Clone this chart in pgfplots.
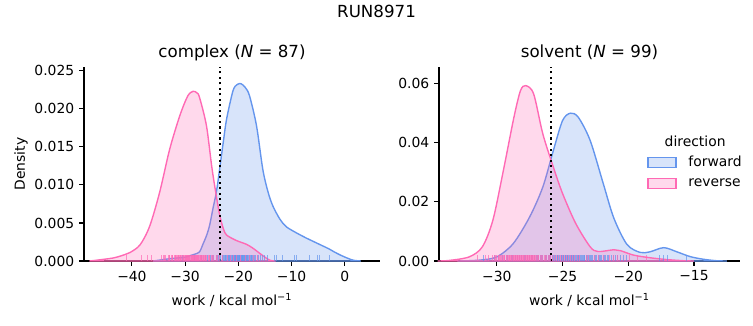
\documentclass[border=0pt]{standalone}
\usepackage{fontspec}
\setmainfont{DejaVu Sans}
\usepackage{pgfplots}
\usepackage{pgfplotstable}
\pgfplotsset{compat=1.18}
\definecolor{fwd}{RGB}{100,149,237}
\definecolor{rev}{RGB}{255,105,180}
\pgfdeclareplotmark{rug}{\pgfpathmoveto{\pgfpointorigin}\pgfpathlineto{\pgfqpoint{0pt}{4.3pt}}\pgfusepathqstroke}

% rug data (work values, drawn at density 0)
\pgfplotstableread{
w h
-30.5 0
-28.3 0
-27.0 0
-26.2 0
-25.8 0
-25.3 0
-24.9 0
-24.6 0
-24.2 0
-23.9 0
-23.6 0
-23.3 0
-23.0 0
-22.8 0
-22.6 0
-22.4 0
-22.2 0
-22.0 0
-21.9 0
-21.7 0
-21.6 0
-21.4 0
-21.3 0
-21.1 0
-21.0 0
-20.8 0
-20.7 0
-20.5 0
-20.4 0
-20.2 0
-20.1 0
-19.9 0
-19.8 0
-19.6 0
-19.5 0
-19.3 0
-19.2 0
-19.0 0
-18.9 0
-18.7 0
-18.6 0
-18.4 0
-18.3 0
-18.1 0
-18.0 0
-17.8 0
-17.6 0
-17.4 0
-17.2 0
-17.0 0
-16.8 0
-16.5 0
-16.2 0
-15.9 0
-15.5 0
-15.1 0
-14.6 0
-13.2 0
-12.8 0
-11.7 0
-9.4 0
-9.0 0
-6.6 0
-5.1 0
-4.7 0
-2.8 0
-22.5 0
-21.8 0
-21.2 0
-20.9 0
-20.6 0
-20.3 0
-20.0 0
-19.7 0
-19.4 0
-19.1 0
-18.8 0
-18.5 0
-18.2 0
-17.9 0
-17.5 0
-23.8 0
-22.9 0
-21.5 0
-20.45 0
-19.85 0
-19.25 0
}\rugCF
\pgfplotstableread{
w h
-41.0 0
-38.2 0
-37.0 0
-36.3 0
-34.4 0
-34.0 0
-33.6 0
-33.2 0
-32.9 0
-32.6 0
-32.3 0
-32.0 0
-31.8 0
-31.5 0
-31.3 0
-31.1 0
-30.9 0
-30.7 0
-30.5 0
-30.3 0
-30.1 0
-29.9 0
-29.8 0
-29.6 0
-29.4 0
-29.3 0
-29.1 0
-29.0 0
-28.8 0
-28.7 0
-28.5 0
-28.4 0
-28.2 0
-28.1 0
-27.9 0
-27.8 0
-27.6 0
-27.5 0
-27.3 0
-27.2 0
-27.0 0
-26.8 0
-26.6 0
-26.4 0
-26.2 0
-26.0 0
-25.7 0
-25.4 0
-25.1 0
-24.7 0
-24.2 0
-23.6 0
-22.9 0
-22.0 0
-21.0 0
-20.3 0
-19.6 0
-18.6 0
-17.9 0
-17.2 0
-16.4 0
-33.8 0
-33.0 0
-32.4 0
-31.9 0
-31.6 0
-31.2 0
-30.8 0
-30.4 0
-30.0 0
-29.7 0
-29.5 0
-29.2 0
-28.9 0
-28.6 0
-28.3 0
-28.0 0
-27.7 0
-27.4 0
-27.1 0
-26.9 0
-26.5 0
-26.1 0
-25.5 0
-24.9 0
-23.9 0
-21.5 0
}\rugCR
\pgfplotstableread{
w h
-31.0 0
-30.2 0
-29.6 0
-29.2 0
-28.9 0
-28.6 0
-28.3 0
-28.1 0
-27.9 0
-27.7 0
-27.5 0
-27.3 0
-27.1 0
-26.9 0
-26.7 0
-26.5 0
-26.3 0
-26.1 0
-25.9 0
-25.7 0
-25.6 0
-25.4 0
-25.3 0
-25.1 0
-25.0 0
-24.9 0
-24.8 0
-24.7 0
-24.6 0
-24.5 0
-24.4 0
-24.3 0
-24.2 0
-24.1 0
-24.0 0
-23.9 0
-23.8 0
-23.7 0
-23.6 0
-23.5 0
-23.4 0
-23.3 0
-23.2 0
-23.1 0
-23.0 0
-22.9 0
-22.8 0
-22.6 0
-22.4 0
-22.2 0
-22.0 0
-21.8 0
-21.6 0
-21.3 0
-21.0 0
-20.6 0
-20.1 0
-17.6 0
-17.3 0
-17.0 0
-15.6 0
-28.8 0
-28.4 0
-27.8 0
-27.4 0
-27.0 0
-26.6 0
-26.2 0
-25.8 0
-25.5 0
-25.2 0
-24.95 0
-24.75 0
-24.55 0
-24.35 0
-24.15 0
-23.95 0
-23.75 0
-23.55 0
-23.35 0
-23.15 0
-22.95 0
-22.7 0
-22.5 0
-22.3 0
-22.1 0
-21.9 0
-21.7 0
-21.5 0
-21.1 0
-20.8 0
-20.4 0
-26.8 0
-26.0 0
-25.35 0
-25.05 0
-24.65 0
-24.25 0
-23.85 0
}\rugSF
\pgfplotstableread{
w h
-31.5 0
-30.9 0
-30.6 0
-30.3 0
-30.1 0
-29.9 0
-29.7 0
-29.5 0
-29.3 0
-29.1 0
-28.9 0
-28.7 0
-28.5 0
-28.3 0
-28.1 0
-27.9 0
-27.7 0
-27.5 0
-27.3 0
-27.1 0
-26.9 0
-26.7 0
-26.5 0
-26.3 0
-26.1 0
-25.9 0
-25.6 0
-25.3 0
-25.0 0
-24.7 0
-24.4 0
-24.1 0
-23.7 0
-23.2 0
-22.6 0
-21.9 0
-21.4 0
-21.1 0
-20.8 0
-19.9 0
-19.3 0
-18.6 0
-30.2 0
-30.0 0
-29.8 0
-29.6 0
-29.4 0
-29.2 0
-29.0 0
-28.8 0
-28.6 0
-28.4 0
-28.2 0
-28.0 0
-27.8 0
-27.6 0
-27.4 0
-27.2 0
-27.0 0
-26.8 0
-26.6 0
-26.4 0
-26.2 0
-26.0 0
-29.85 0
-29.65 0
-29.45 0
-29.25 0
-29.05 0
-28.85 0
-28.65 0
-28.45 0
-28.25 0
-28.05 0
-27.85 0
-27.65 0
-27.45 0
-27.25 0
-27.05 0
-26.85 0
-28.95 0
-28.75 0
-28.55 0
-28.35 0
-28.15 0
-27.95 0
-27.75 0
-27.55 0
-27.35 0
-27.15 0
-25.75 0
-25.45 0
-25.15 0
-24.85 0
-24.55 0
-24.25 0
-23.9 0
-23.0 0
-22.3 0
}\rugSR

\pgfplotsset{
  kde/.style={
    scale only axis,
    axis x line*=bottom, axis y line*=left,
    axis line style={-, line width=0.8pt, black},
    tick align=outside,
    major tick length=3.5pt,
    every tick/.style={black, line width=0.8pt},
    tick label style={font=\fontsize{10}{12}\selectfont},
    scaled y ticks=false, scaled x ticks=false,
    /pgf/number format/assume math mode=true,
    title style={font=\fontsize{12}{14}\selectfont, at={(0.5,1)}, anchor=base, yshift=0.8pt},
    xlabel style={font=\fontsize{10}{12}\selectfont, at={(0.5,0)}, anchor=base, yshift=-32pt},
    ylabel style={font=\fontsize{10}{12}\selectfont},
    xlabel={work / kcal mol\textsuperscript{−1}},
    clip=false,
  },
  fwdline/.style={draw=fwd, fill=fwd, fill opacity=0.25, draw opacity=1, line width=1pt, smooth, tension=0.5},
  revline/.style={draw=rev, fill=rev, fill opacity=0.25, draw opacity=1, line width=1pt, smooth, tension=0.5},
  rugf/.style={only marks, mark=rug, mark options={draw=fwd, draw opacity=0.7, line width=0.7pt}},
  rugr/.style={only marks, mark=rug, mark options={draw=rev, draw opacity=0.7, line width=0.7pt}},
}

\begin{document}
\begin{tikzpicture}
\path (0pt,0pt) rectangle (542.16pt,234pt);
\node[font=\fontsize{12}{14}\selectfont, anchor=base] at (271.1pt,221.4pt) {RUN8971};

% ---------- complex ----------
\begin{axis}[kde,
  at={(60.48pt,46.08pt)}, anchor=south west,
  width=213.1pt, height=139.7pt,
  xmin=-49, xmax=6.6, ymin=0, ymax=0.0255,
  xtick={-40,-30,-20,-10,0},
  xticklabels={−40,−30,−20,−10,0},
  ytick={0,0.005,0.010,0.015,0.020,0.025},
  yticklabels={0.000,0.005,0.010,0.015,0.020,0.025},
  ylabel={Density},
  ylabel style={at={(axis description cs:-0.213,0.5)}, anchor=center},
  title={complex (\textit{N} = 87)},
]
\addplot[fwdline] coordinates {
(-36,0) (-32.9,0.0003) (-30,0.0005) (-29.1,0.0007) (-28.2,0.0009) (-27.3,0.0012)
(-26.6,0.0023) (-26.0,0.0033) (-25.4,0.0047) (-24.8,0.0068) (-24.1,0.0092)
(-23.5,0.0122) (-22.8,0.0158) (-22.2,0.0187) (-21.0,0.0224)
(-20.2,0.0232) (-19.5,0.0233) (-18.7,0.0228) (-17.9,0.0217) (-16.6,0.0178)
(-15.4,0.0120) (-14.4,0.0090) (-13.5,0.0072) (-12.2,0.0055) (-11.0,0.0045)
(-9.1,0.0037) (-7.2,0.0030) (-6.0,0.0026) (-4.5,0.0021) (-3.0,0.0016)
(-2.0,0.0012) (-0.9,0.0008) (0.4,0.0004) (1.6,0.0001) (3,0)
} \closedcycle;
\addplot[revline] coordinates {
(-48,0) (-46.7,0.0001) (-43.5,0.0004) (-41.5,0.0008) (-40.4,0.0011) (-38.5,0.0021)
(-36.7,0.0045) (-34.8,0.0090) (-32.9,0.0147) (-31.0,0.0191) (-29.5,0.0217)
(-28.5,0.0223) (-27.8,0.0221) (-27.3,0.0215) (-26.0,0.0178) (-25.0,0.0124)
(-24.2,0.0088) (-23.5,0.0060) (-22.8,0.0042) (-22.2,0.0034) (-20.4,0.0027)
(-18.5,0.0022) (-17.3,0.0017) (-15.4,0.0007) (-14.1,0.0001) (-13,0)
} \closedcycle;
\addplot[rugf] table[x=w, y=h] {\rugCF};
\addplot[rugr] table[x=w, y=h] {\rugCR};
\addplot[black, line width=1.5pt, dash pattern=on 1.5pt off 2.475pt] coordinates {(-23.5,0) (-23.5,0.0255)};
\end{axis}

% ---------- solvent ----------
\begin{axis}[kde,
  at={(316.08pt,46.08pt)}, anchor=south west,
  width=216.7pt, height=139.7pt,
  xmin=-34.4, xmax=-11.5, ymin=0, ymax=0.0655,
  xtick={-30,-25,-20,-15},
  xticklabels={−30,−25,−20,−15},
  ytick={0,0.02,0.04,0.06},
  yticklabels={0.00,0.02,0.04,0.06},
  title={solvent (\textit{N} = 99)},
]
\addplot[fwdline] coordinates {
(-33,0) (-31.3,0.0003) (-30.0,0.0014) (-28.75,0.0059) (-27.5,0.0149) (-26.5,0.0250)
(-25.7,0.0373) (-25.0,0.0474) (-24.4,0.0499) (-23.8,0.0485) (-22.9,0.0407)
(-21.9,0.0261) (-21.1,0.0145) (-20.1,0.0056) (-19.1,0.0029) (-18.35,0.0031)
(-17.3,0.0045) (-16.3,0.0031) (-15.3,0.0015) (-14.3,0.0006) (-13.3,0.0001) (-12.5,0)
} \closedcycle;
\addplot[revline] coordinates {
(-34.5,0) (-33.6,0.0002) (-32.1,0.0014) (-31.1,0.0048) (-30.3,0.0138) (-29.5,0.0306)
(-28.7,0.0485) (-28.2,0.0575) (-27.8,0.0592) (-27.2,0.0564) (-26.5,0.0429)
(-25.7,0.0317) (-25.0,0.0228) (-24.0,0.0127) (-22.9,0.0048) (-22.3,0.0032)
(-21.1,0.0038) (-20.6,0.0035) (-19.6,0.0020) (-18.35,0.0011) (-17.1,0.0005)
(-15.8,0.0001) (-15,0)
} \closedcycle;
\addplot[rugf] table[x=w, y=h] {\rugSF};
\addplot[rugr] table[x=w, y=h] {\rugSR};
\addplot[black, line width=1.5pt, dash pattern=on 1.5pt off 2.475pt] coordinates {(-25.9,0) (-25.9,0.0655)};
% legend
\node[font=\fontsize{10}{12}\selectfont] at (rel axis cs:0.851,0.615) {direction};
\draw[draw=fwd, fill=fwd, fill opacity=0.25, line width=1pt] (rel axis cs:0.695,0.483) rectangle (rel axis cs:0.787,0.535);
\draw[draw=rev, fill=rev, fill opacity=0.25, line width=1pt] (rel axis cs:0.695,0.373) rectangle (rel axis cs:0.787,0.425);
\node[font=\fontsize{10}{12}\selectfont, anchor=west, inner sep=0pt] at (rel axis cs:0.828,0.512) {forward};
\node[font=\fontsize{10}{12}\selectfont, anchor=west, inner sep=0pt] at (rel axis cs:0.828,0.401) {reverse};
\end{axis}
\end{tikzpicture}
\end{document}
